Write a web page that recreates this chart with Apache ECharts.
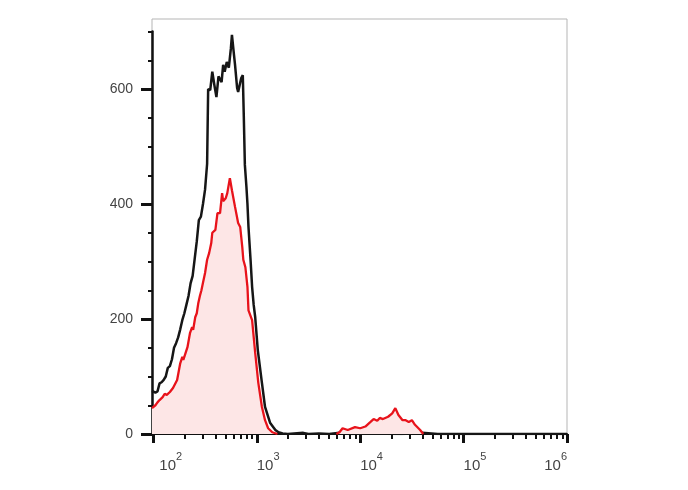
<!DOCTYPE html>
<html>
<head>
<meta charset="utf-8">
<script src="https://cdn.jsdelivr.net/npm/echarts@6/dist/echarts.min.js"></script>
<style>
html,body{margin:0;padding:0;background:#fff;}
#chart{width:688px;height:490px;}
</style>
</head>
<body>
<div id="chart"></div>
<script>
// Histogram (log10 of fluorescence intensity vs. count)
const blackLogX = [1.987,2.00,2.02,2.04,2.06,2.08,2.10,2.12,2.14,2.16,2.18,2.20,2.22,2.24,2.26,2.28,2.30,2.32,2.34,2.36,2.38,2.40,2.42,2.44,2.46,2.48,2.50,2.52,2.53,2.55,2.57,2.59,2.61,2.63,2.66,2.675,2.69,2.71,2.73,2.75,2.76,2.78,2.79,2.81,2.82,2.85,2.865,2.875,2.885,2.90,2.91,2.92,2.94,2.955,2.97,2.985,3.01,3.05,3.08,3.13,3.18,3.21,3.25,3.30,3.45,3.50,3.60,3.70,3.80,3.90,4.10,4.40,4.60,4.75,5.00,5.50,6.00];
const blackCount = [75,77,72,74,88,90,94,100,115,118,130,150,158,168,182,198,210,225,240,262,275,305,335,372,378,400,425,470,600,598,630,607,586,622,612,642,630,647,637,671,694,659,642,602,595,619,624,550,468,430,400,360,303,256,225,203,146,89,47,19,7,3,1,0,2,0,1,0,2,0,1,0,2,0,0,0,0];

const redLogX = [1.987,2.00,2.02,2.04,2.06,2.09,2.11,2.13,2.16,2.19,2.23,2.26,2.28,2.29,2.33,2.355,2.375,2.385,2.405,2.42,2.435,2.45,2.465,2.48,2.50,2.52,2.54,2.56,2.57,2.60,2.62,2.645,2.665,2.675,2.70,2.715,2.74,2.76,2.79,2.82,2.84,2.86,2.87,2.89,2.91,2.92,2.955,2.985,3.015,3.05,3.08,3.11,3.15,3.20,3.50,3.77,3.80,3.83,3.88,3.95,4.00,4.05,4.10,4.13,4.165,4.19,4.22,4.27,4.31,4.34,4.37,4.41,4.44,4.47,4.50,4.53,4.58,4.61];
const redCount = [45,47,50,55,59,64,70,68,73,80,94,123,134,129,151,176,186,181,203,210,228,240,250,263,280,303,315,332,350,355,384,384,419,405,410,419,445,424,395,367,360,325,303,290,256,215,198,141,89,47,24,10,3,0,null,0,3,10,7,12,10,13,21,26,23,28,26,30,36,45,33,24,24,21,24,16,7,0];

const xMajorExponents = [2,3,4,5,6];
const xMinorMultipliers = [2,3,4,5,6,7,8,9];
const yMajorTicks = [0,200,400,600];
const yMinorTicks = [50,100,150,250,300,350,450,500,550,650,700];

const X_MIN = 1.987, X_MAX = 6;
const Y_TOP_AXIS = 700;
const PX_PER_UNIT = 402.5 / 700;
const Y_MAX = 415 / PX_PER_UNIT;

const xMinorTicks = [];
xMajorExponents.slice(0, -1).forEach(d => xMinorMultipliers.forEach(k => xMinorTicks.push(d + Math.log10(k))));

const toPairs = (xs, ys) => xs.map((x, i) => [x, ys[i] === null ? '-' : ys[i]]);

const labelFont = 'Liberation Sans, Arial, sans-serif';
const richStyles = {
  p: {width: 6, fontSize: 15, lineHeight: 22},
  b: {fontSize: 15, color: '#444', fontFamily: labelFont, lineHeight: 22, verticalAlign: 'bottom'},
  s: {fontSize: 11, color: '#444', fontFamily: labelFont, lineHeight: 22, verticalAlign: 'top'}
};
const supFormatter = v => (Math.round(v) === 2 ? '{p|}' : '') + '{b|10}{s|' + Math.round(v) + '}';

const chart = echarts.init(document.getElementById('chart'), null, {renderer: 'canvas'});
chart.setOption({
  animation: false,
  backgroundColor: '#fff',
  grid: [
    {left: 152, top: 19, width: 415, height: 415, show: true, borderColor: '#b5b5b5', borderWidth: 1, backgroundColor: 'transparent'},
    {left: 152, top: 31.5, width: 415, height: 402.5, show: false}
  ],
  xAxis: [
    {
      type: 'value', gridIndex: 0, min: X_MIN, max: X_MAX, position: 'bottom',
      axisLine: {show: true, onZero: false, lineStyle: {color: '#111', width: 2}},
      axisTick: {show: true, length: 9, lineStyle: {color: '#111', width: 3}, customValues: xMajorExponents},
      axisLabel: {show: true, customValues: xMajorExponents.slice(0, -1), align: 'left', margin: 17, formatter: supFormatter, rich: richStyles},
      splitLine: {show: false}
    },
    {
      type: 'value', gridIndex: 0, min: X_MIN, max: X_MAX, position: 'bottom',
      axisLine: {show: false, onZero: false},
      axisTick: {show: true, length: 5, lineStyle: {color: '#111', width: 2}, customValues: xMinorTicks},
      axisLabel: {show: false},
      splitLine: {show: false}
    },
    {
      type: 'value', gridIndex: 0, min: X_MIN, max: X_MAX, position: 'bottom',
      axisLine: {show: false, onZero: false},
      axisTick: {show: false},
      axisLabel: {show: true, customValues: xMajorExponents.slice(-1), align: 'right', margin: 17, formatter: supFormatter, rich: richStyles},
      splitLine: {show: false}
    },
    {
      type: 'value', gridIndex: 1, min: X_MIN, max: X_MAX, show: false
    }
  ],
  yAxis: [
    {type: 'value', gridIndex: 0, min: 0, max: Y_MAX, show: false, splitLine: {show: false}},
    {
      type: 'value', gridIndex: 1, min: 0, max: Y_TOP_AXIS, position: 'left',
      axisLine: {show: true, onZero: false, lineStyle: {color: '#111', width: 2.5}},
      axisTick: {show: true, length: 11, lineStyle: {color: '#111', width: 3}, customValues: yMajorTicks},
      axisLabel: {show: true, customValues: yMajorTicks, margin: 19, color: '#444', fontSize: 14, fontFamily: labelFont},
      splitLine: {show: false}
    },
    {
      type: 'value', gridIndex: 1, min: 0, max: Y_TOP_AXIS, position: 'left',
      axisLine: {show: false},
      axisTick: {show: true, length: 4, lineStyle: {color: '#111', width: 2}, customValues: yMinorTicks},
      axisLabel: {show: false},
      splitLine: {show: false}
    }
  ],
  series: [
    {
      name: 'control', type: 'line', xAxisIndex: 0, yAxisIndex: 0,
      data: toPairs(blackLogX, blackCount),
      showSymbol: false, symbol: 'none', clip: true, z: 3,
      lineStyle: {color: '#161616', width: 2.5}
    },
    {
      name: 'stained', type: 'line', xAxisIndex: 0, yAxisIndex: 0,
      data: toPairs(redLogX, redCount),
      showSymbol: false, symbol: 'none', clip: true, connectNulls: false, z: 4,
      lineStyle: {color: '#e8131b', width: 2.3},
      areaStyle: {color: '#fde6e6', opacity: 1}
    }
  ]
});
</script>
</body>
</html>
